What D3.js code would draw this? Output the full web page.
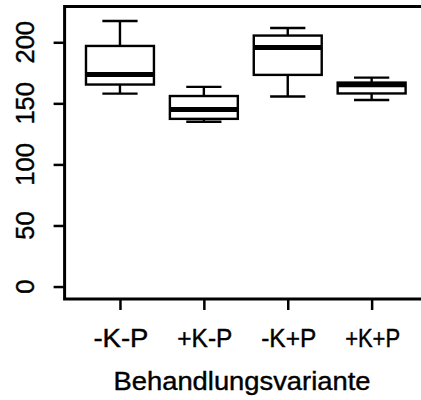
<!DOCTYPE html>
<html><head><meta charset="utf-8">
<script src="https://cdn.jsdelivr.net/npm/d3@7"></script>
<style>body{margin:0;background:#fff}svg{display:block}text{font-family:"Liberation Sans",Arial,sans-serif;fill:#000}</style>
</head><body><svg id="c" width="421" height="400"></svg>
<script>
const categories = ["-K-P", "+K-P", "-K+P", "+K+P"];
const whiskerLow = [158, 134.9, 155.6, 152.8];
const q1 = [165.4, 137.3, 173.3, 158.1];
const medians = [173.7, 145, 195.7, 165.3];
const q3 = [197, 156, 205.5, 167];
const whiskerHigh = [217.4, 163.5, 211.7, 171.1];
const yTicks = [0, 50, 100, 150, 200];
const xTitle = "Behandlungsvariante";

const svg = d3.select("#c");
const x = d3.scaleLinear().domain([0.34, 4.66]).range([64.6, 427]);
const y = d3.scaleLinear().domain([-10.2, 229.3]).range([299, 6.5]);
const boxW = 0.81, capW = 0.42;

const data = categories.map((c, i) => ({c, i: i + 1, lo: whiskerLow[i], q1: q1[i], med: medians[i], q3: q3[i], hi: whiskerHigh[i]}));

const g = svg.append("g");
data.forEach(d => {
  g.append("line").attr("x1", x(d.i)).attr("x2", x(d.i)).attr("y1", y(d.hi)).attr("y2", y(d.q3)).attr("stroke", "#000").attr("stroke-width", 2.4);
  g.append("line").attr("x1", x(d.i)).attr("x2", x(d.i)).attr("y1", y(d.lo)).attr("y2", y(d.q1)).attr("stroke", "#000").attr("stroke-width", 2.4);
  g.append("line").attr("x1", x(d.i - capW / 2)).attr("x2", x(d.i + capW / 2)).attr("y1", y(d.hi)).attr("y2", y(d.hi)).attr("stroke", "#000").attr("stroke-width", 2.4);
  g.append("line").attr("x1", x(d.i - capW / 2)).attr("x2", x(d.i + capW / 2)).attr("y1", y(d.lo)).attr("y2", y(d.lo)).attr("stroke", "#000").attr("stroke-width", 2.4);
  g.append("rect").attr("x", x(d.i - boxW / 2)).attr("width", x(d.i + boxW / 2) - x(d.i - boxW / 2))
    .attr("y", y(d.q3)).attr("height", y(d.q1) - y(d.q3)).attr("fill", "#fff").attr("stroke", "#000").attr("stroke-width", 2.4);
  g.append("line").attr("x1", x(d.i - boxW / 2)).attr("x2", x(d.i + boxW / 2)).attr("y1", y(d.med)).attr("y2", y(d.med)).attr("stroke", "#000").attr("stroke-width", 5);
});

svg.append("rect").attr("x", x(0.34)).attr("y", y(229.3)).attr("width", x(4.66) - x(0.34)).attr("height", y(-10.2) - y(229.3))
  .attr("fill", "none").attr("stroke", "#000").attr("stroke-width", 3);

const ya = svg.append("g").attr("transform", `translate(${x(0.34)},0)`)
  .call(d3.axisLeft(y).tickValues(yTicks).tickSize(11).tickFormat(""));
ya.select(".domain").remove();
ya.selectAll(".tick line").attr("stroke", "#000").attr("stroke-width", 2.5);
ya.selectAll(".tick text").remove();
svg.append("g").selectAll("text").data(yTicks).join("text")
  .attr("transform", d => `translate(34,${y(d)}) rotate(-90)`)
  .attr("text-anchor", "middle").attr("font-size", 25.5)
  .attr("stroke", "#000").attr("stroke-width", 0.4)
  .text(d => d);

const xa = svg.append("g").attr("transform", `translate(0,${y(-10.2)})`)
  .call(d3.axisBottom(x).tickValues(data.map(d => d.i)).tickSize(11).tickFormat(""));
xa.select(".domain").remove();
xa.selectAll(".tick line").attr("stroke", "#000").attr("stroke-width", 2.5);
xa.selectAll(".tick text").remove();
svg.append("g").selectAll("text").data(data).join("text")
  .attr("x", d => x(d.i) + 1).attr("y", 347)
  .attr("text-anchor", "middle").attr("font-size", 25.5)
  .attr("textLength", 55).attr("lengthAdjust", "spacingAndGlyphs")
  .attr("stroke", "#000").attr("stroke-width", 0.4)
  .text(d => d.c);

svg.append("text").attr("x", 242).attr("y", 390).attr("text-anchor", "middle").attr("font-size", 25.5)
  .attr("textLength", 257).attr("lengthAdjust", "spacingAndGlyphs")
  .attr("stroke", "#000").attr("stroke-width", 0.4)
  .text(xTitle);
</script></body></html>
